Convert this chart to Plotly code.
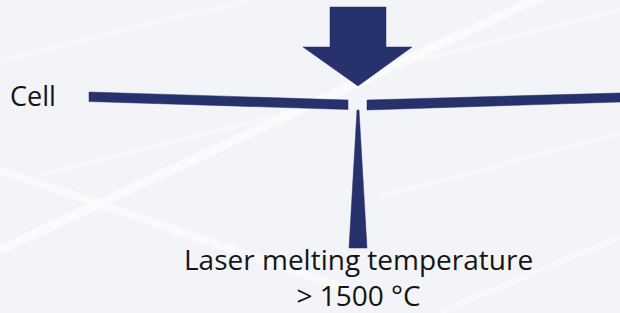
import plotly.graph_objects as go

W, H = 620, 313
NAVY = "#27316c"
BG = "#f3f4f7"

# Diagram geometry (pixel space, y downward)
arrow_x = [330, 386, 386, 412, 358, 303, 330, 330]
arrow_y = [7, 7, 47, 47, 86, 47, 47, 7]
left_cell_x = [89, 348, 348, 89, 89]
left_cell_y = [92, 100, 109.5, 101.5, 92]
right_cell_x = [367, 620, 620, 367, 367]
right_cell_y = [100, 93, 102, 110, 100]
beam_x = [357, 359, 367, 349, 357]
beam_y = [110, 110, 248, 248, 110]

# Labels
cell_label = "Cell"
laser_label = ["Laser melting temperature", "> 1500 °C"]

# faint background streaks (soft white reflections)
streaks = [
    ([0, 620], [250, -40], 9, 0.6),
    ([0, 350], [170, 290], 8, 0.5),
    ([40, 300], [175, 110], 5, 0.3),
    ([380, 620], [197, 133], 5, 0.35),
    ([440, 620], [312, 237], 6, 0.35),
    ([0, 250], [60, 0], 6, 0.3),
    ([420, 620], [60, 10], 5, 0.3),
]

fig = go.Figure()
for sx, sy, sw, sa in streaks:
    fig.add_trace(go.Scatter(x=sx, y=sy, mode="lines",
                             line=dict(color=f"rgba(255,255,255,{sa})", width=sw),
                             hoverinfo="skip", showlegend=False))
for px, py in [(arrow_x, arrow_y), (left_cell_x, left_cell_y),
               (right_cell_x, right_cell_y), (beam_x, beam_y)]:
    fig.add_trace(go.Scatter(x=px, y=py, mode="lines", fill="toself",
                             fillcolor=NAVY, line=dict(color=NAVY, width=0.5),
                             hoverinfo="skip", showlegend=False))

font = dict(family="Open Sans, sans-serif", color="#151515")
fig.add_annotation(x=8, y=95, text=cell_label, showarrow=False, xanchor="left",
                   yanchor="middle", font=dict(size=27, **font))
fig.add_annotation(x=358, y=277, text="<br>".join(laser_label), showarrow=False,
                   xanchor="center", yanchor="middle", font=dict(size=28, **font))

fig.update_layout(width=W, height=H, margin=dict(l=0, r=0, t=0, b=0),
                  paper_bgcolor=BG, plot_bgcolor=BG,
                  xaxis=dict(range=[0, W], visible=False, fixedrange=True),
                  yaxis=dict(range=[H, 0], visible=False, fixedrange=True))
fig.write_html("out.html", config={"displayModeBar": False},
               post_script="document.body.style.margin='0';document.body.style.overflow='hidden';")
